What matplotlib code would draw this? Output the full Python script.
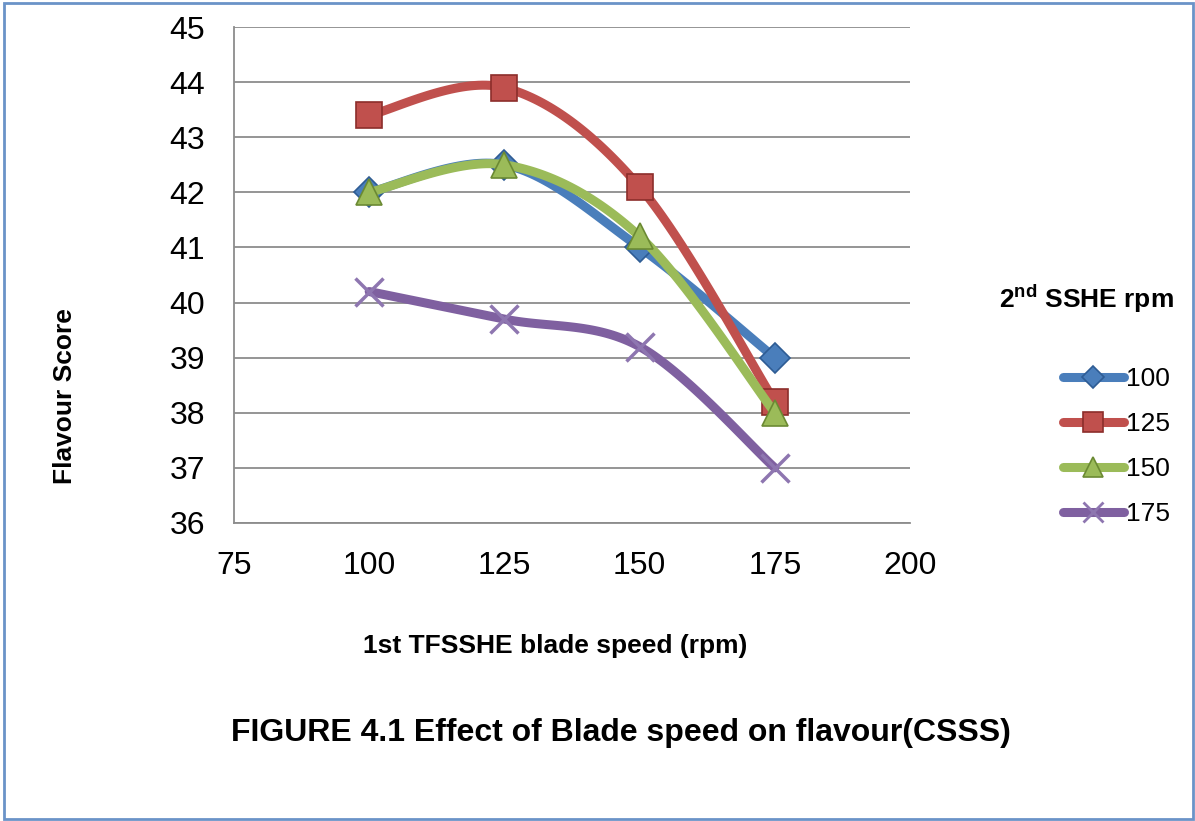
import numpy as np
import matplotlib.pyplot as plt
from matplotlib.patches import Rectangle
from matplotlib.lines import Line2D

plt.rcParams['font.family'] = ['Liberation Sans', 'DejaVu Sans']
plt.rcParams['mathtext.fontset'] = 'custom'
plt.rcParams['mathtext.rm'] = 'Liberation Sans'
plt.rcParams['mathtext.bf'] = 'Liberation Sans:bold'

# 1st TFSSHE blade speed (rpm)
blade_speed = [100, 125, 150, 175]
# flavour score for each 2nd SSHE rpm
series_names = ['100', '125', '150', '175']
score_100 = [42.0, 42.5, 41.0, 39.0]
score_125 = [43.4, 43.9, 42.1, 38.2]
score_150 = [42.0, 42.5, 41.2, 38.0]
score_175 = [40.2, 39.7, 39.2, 37.0]

colors = ['#4A7EBB', '#C0504D', '#9BBB59', '#7F60A0']
edges = ['#2E5C94', '#8C2E2B', '#6B8A33', '#7F60A0']
markers = ['D', 's', '^', 'x']
msizes = [15, 19, 19, 20]


def smooth(xs, ys, n=40):
    # cubic bezier through the points (like a spreadsheet "smoothed line")
    xs = np.asarray(xs, float)
    ys = np.asarray(ys, float)
    sx = xs / 125.0
    sy = ys / 9.0 * 0.74
    P = np.column_stack([sx, sy])
    out = []
    for i in range(len(P) - 1):
        p0 = P[max(i - 1, 0)]
        p1 = P[i]
        p2 = P[i + 1]
        p3 = P[min(i + 2, len(P) - 1)]
        c1 = p1 + (p2 - p0) / 6.0
        c2 = p2 - (p3 - p1) / 6.0
        t = np.linspace(0, 1, n)[:, None]
        seg = ((1 - t) ** 3) * p1 + 3 * ((1 - t) ** 2) * t * c1 + 3 * (1 - t) * t ** 2 * c2 + t ** 3 * p2
        out.append(seg)
    pts = np.vstack(out)
    return pts[:, 0] * 125.0, pts[:, 1] / 0.74 * 9.0


fig = plt.figure(figsize=(11.95, 8.21), dpi=100)
ax = fig.add_axes([0.1958, 0.3630, 0.5657, 0.6041])

all_scores = [score_100, score_125, score_150, score_175]
handles = []
for k, ys in enumerate(all_scores):
    sx, sy = smooth(blade_speed, ys)
    ax.plot(sx, sy, color=colors[k], lw=6.5, solid_capstyle='round', zorder=2 + k)
    if markers[k] == 'x':
        ax.plot(blade_speed, ys, ls='none', marker='x', ms=msizes[k], mew=2.5,
                color='#8E76B0', zorder=2 + k)
    else:
        ax.plot(blade_speed, ys, ls='none', marker=markers[k], ms=msizes[k],
                mfc=colors[k], mec=edges[k], mew=1.2, zorder=2 + k)
    handles.append(Line2D([], [], color=colors[k], lw=6.5, solid_capstyle='round',
                          marker=markers[k], ms=msizes[k] * 0.75,
                          mfc=colors[k], mec=edges[k] if markers[k] != 'x' else '#8E76B0',
                          mew=1.2 if markers[k] != 'x' else 2))

ax.set_xlim(75, 200)
ax.set_ylim(36, 45)
ax.set_xticks([75, 100, 125, 150, 175, 200])
ax.set_yticks(range(36, 46))
ax.yaxis.grid(True, color='#8C8C8C', lw=1.3)
ax.set_axisbelow(True)
for s in ['top', 'right']:
    ax.spines[s].set_visible(False)
for s in ['left', 'bottom']:
    ax.spines[s].set_color('#8C8C8C')
    ax.spines[s].set_linewidth(1.3)
ax.tick_params(length=0, labelsize=23)
ax.tick_params(axis='x', pad=20)
ax.tick_params(axis='y', pad=21)

fig.text(0.4644, 0.2132, '1st TFSSHE blade speed (rpm)', ha='center', va='center',
         fontsize=19, fontweight='bold')
fig.text(0.0545, 0.5177, 'Flavour Score', ha='center', va='center', rotation=90,
         fontsize=19, fontweight='bold')
fig.text(0.5200, 0.1070, 'FIGURE 4.1 Effect of Blade speed on flavour(CSSS)', ha='center',
         va='center', fontsize=23, fontweight='bold')
fig.text(0.9090, 0.6360, r'2$^{\mathbf{nd}}$ SSHE rpm', ha='center', va='center',
         fontsize=19, fontweight='bold')

fig.legend(handles, series_names, loc='upper left', bbox_to_anchor=(0.8895, 0.553),
           frameon=False, fontsize=19, handlelength=2.3, handletextpad=0.1,
           labelspacing=0.8, borderaxespad=0, borderpad=0)

fig.add_artist(Rectangle((0.003, 0.003), 0.995, 0.993, transform=fig.transFigure,
                         fill=False, edgecolor='#6A93C8', lw=2))

fig.savefig('out.png', dpi=100)
